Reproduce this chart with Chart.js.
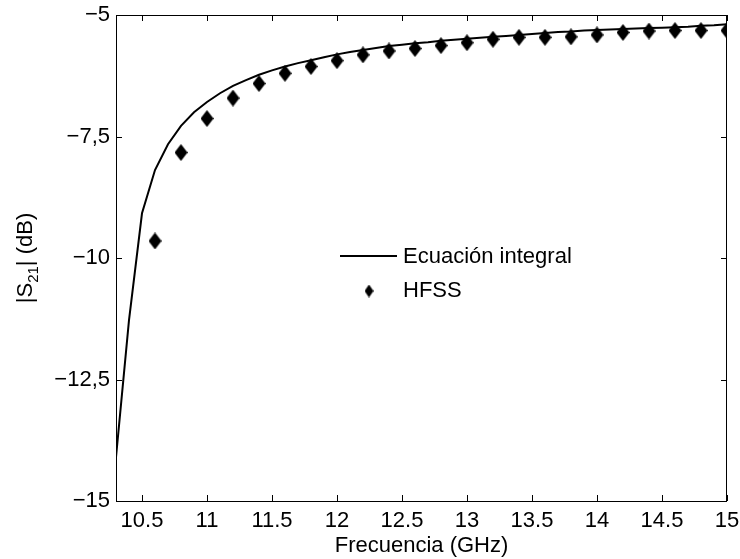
<!DOCTYPE html>
<html><head><meta charset="utf-8">
<script src="https://cdn.jsdelivr.net/npm/chart.js@4.4.0/dist/chart.umd.min.js"></script>
<style>html,body{margin:0;padding:0;background:#fff}#wrap{width:740px;height:559px}</style>
</head><body><div id="wrap"><canvas id="c" width="740" height="559"></canvas></div>
<script>
const lineFreq = [10.3,10.4,10.5,10.6,10.7,10.8,10.9,11.0,11.1,11.2,11.3,11.4,11.5,11.6,11.7,11.8,11.9,12.0,12.1,12.2,12.3,12.4,12.5,12.6,12.7,12.8,12.9,13.0,13.1,13.2,13.3,13.4,13.5,13.6,13.7,13.8,13.9,14.0,14.1,14.2,14.3,14.4,14.5,14.6,14.7,14.8,14.9,15.0];
const lineS21 = [-14.1,-11.28,-9.08,-8.19,-7.66,-7.28,-7.0,-6.79,-6.61,-6.46,-6.34,-6.23,-6.14,-6.06,-5.99,-5.93,-5.87,-5.81,-5.76,-5.72,-5.68,-5.64,-5.61,-5.58,-5.56,-5.53,-5.51,-5.49,-5.47,-5.45,-5.43,-5.41,-5.39,-5.37,-5.35,-5.34,-5.32,-5.31,-5.30,-5.29,-5.28,-5.27,-5.26,-5.25,-5.24,-5.22,-5.21,-5.19];
const hfssFreq = [10.6,10.8,11.0,11.2,11.4,11.6,11.8,12.0,12.2,12.4,12.6,12.8,13.0,13.2,13.4,13.6,13.8,14.0,14.2,14.4,14.6,14.8,15.0];
const hfssS21 = [-9.65,-7.83,-7.13,-6.71,-6.41,-6.20,-6.06,-5.94,-5.82,-5.74,-5.69,-5.63,-5.57,-5.50,-5.46,-5.46,-5.45,-5.41,-5.36,-5.33,-5.32,-5.32,-5.32];
const xTicks = [10.5,11,11.5,12,12.5,13,13.5,14,14.5,15];
const yTicks = [-15,-12.5,-10,-7.5,-5];
const yTickLabels = ['\u221215','\u221212,5','\u221210','\u22127,5','\u22125'];
const seriesNames = ['Ecuación integral','HFSS'];

const FONT = 'Liberation Sans, Arial, Helvetica, sans-serif';
const FS = 22;

function diamond(w,h){
  const c=document.createElement('canvas');c.width=w;c.height=h;
  const g=c.getContext('2d');g.fillStyle='#000';g.beginPath();
  g.moveTo(w/2,0);g.lineTo(w,h/2);g.lineTo(w/2,h);g.lineTo(0,h/2);g.closePath();g.fill();
  return c;
}
const bigDiamond = diamond(13,17);
const smallDiamond = diamond(9,13);

const boxPlugin = {
  id:'box',
  afterDraw(chart){
    const {ctx, chartArea:a, scales:{x,y}} = chart;
    ctx.save();
    ctx.strokeStyle='#000';ctx.lineWidth=1;
    ctx.strokeRect(a.left+0.5,a.top+0.5,a.right-a.left-1,a.bottom-a.top);
    const tl=6;
    ctx.beginPath();
    xTicks.forEach(v=>{const px=Math.round(x.getPixelForValue(v))+0.5;
      ctx.moveTo(px,a.bottom);ctx.lineTo(px,a.bottom-tl);
      ctx.moveTo(px,a.top);ctx.lineTo(px,a.top+tl);});
    yTicks.forEach(v=>{const py=Math.round(y.getPixelForValue(v))+0.5;
      ctx.moveTo(a.left,py);ctx.lineTo(a.left+tl,py);
      ctx.moveTo(a.right,py);ctx.lineTo(a.right-tl,py);});
    ctx.stroke();
    // legend
    const lx=340;
    ctx.lineWidth=2;
    ctx.beginPath();ctx.moveTo(lx,256);ctx.lineTo(lx+57,256);ctx.stroke();
    ctx.drawImage(smallDiamond, 369-4.5, 291-6.5);
    ctx.fillStyle='#000';ctx.font=FS+'px '+FONT;ctx.textBaseline='middle';ctx.textAlign='left';
    ctx.fillText(chart.data.datasets[0].label, 403, 257);
    ctx.fillText(chart.data.datasets[1].label, 403, 291);
    // y title with subscript
    ctx.translate(24,(a.top+a.bottom)/2);
    ctx.rotate(-Math.PI/2);
    const p1='|S', sub='21', p2='| (dB)';
    ctx.font=FS+'px '+FONT;
    const w1=ctx.measureText(p1).width, w3=ctx.measureText(p2).width;
    ctx.font='15px '+FONT;
    const w2=ctx.measureText(sub).width;
    let sx=-(w1+w2+w3)/2;
    ctx.textBaseline='alphabetic';
    ctx.font=FS+'px '+FONT;ctx.fillText(p1,sx,8);sx+=w1;
    ctx.font='15px '+FONT;ctx.fillText(sub,sx,14);sx+=w2;
    ctx.font=FS+'px '+FONT;ctx.fillText(p2,sx,8);
    ctx.restore();
  }
};

new Chart(document.getElementById('c'),{
  type:'scatter',
  data:{datasets:[
    {label:seriesNames[0],data:lineFreq.map((f,i)=>({x:f,y:lineS21[i]})),showLine:true,borderColor:'#000',borderWidth:2,pointRadius:0,fill:false,tension:0},
    {label:seriesNames[1],data:hfssFreq.map((f,i)=>({x:f,y:hfssS21[i]})),showLine:false,pointStyle:bigDiamond,pointRadius:8,backgroundColor:'#000',borderColor:'#000'}
  ]},
  options:{
    responsive:false,animation:false,
    layout:{padding:{left:0,right:13,top:15,bottom:0}},
    plugins:{legend:{display:false},tooltip:{enabled:false}},
    scales:{
      x:{type:'linear',min:10.3,max:15,
        afterBuildTicks(s){s.ticks=xTicks.map(v=>({value:v}));},
        afterFit(s){s.height=58;s.paddingLeft=0;s.paddingRight=0;},
        grid:{display:false,drawTicks:false},border:{display:false},
        ticks:{color:'#000',font:{family:FONT,size:FS},padding:7,maxRotation:0,autoSkip:false,
          callback:(v)=>String(v)},
        title:{display:true,text:'Frecuencia (GHz)',color:'#000',font:{family:FONT,size:FS},padding:{top:0,bottom:0}}
      },
      y:{type:'linear',min:-15,max:-5,
        afterBuildTicks(s){s.ticks=yTicks.map(v=>({value:v}));},
        afterFit(s){s.width=116;s.paddingTop=0;s.paddingBottom=0;},
        grid:{display:false,drawTicks:false},border:{display:false},
        ticks:{color:'#000',font:{family:FONT,size:FS},padding:6,autoSkip:false,
          callback:(v)=>yTickLabels[yTicks.indexOf(v)]}
      }
    }
  },
  plugins:[boxPlugin]
});
</script></body></html>
